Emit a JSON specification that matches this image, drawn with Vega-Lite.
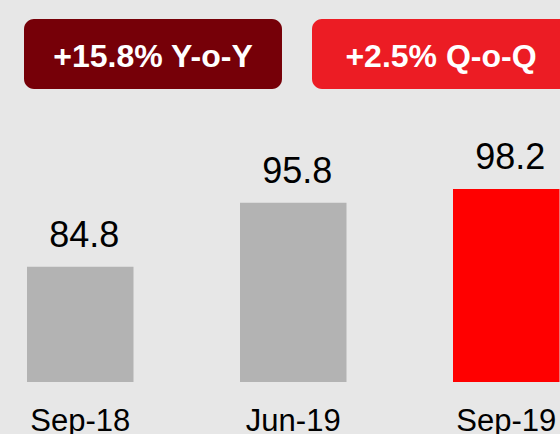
{
  "$schema": "https://vega.github.io/schema/vega-lite/v6.json",
  "width": 560,
  "height": 434,
  "padding": 0,
  "autosize": {"type": "none"},
  "background": "#e7e7e7",
  "config": {"view": {"stroke": null}, "font": "Liberation Sans"},
  "layer": [
    {
      "data": {"values": [
        {"period": "Sep-18", "value": 84.8},
        {"period": "Jun-19", "value": 95.8},
        {"period": "Sep-19", "value": 98.2}
      ]},
      "encoding": {
        "x": {
          "field": "period", "type": "nominal", "sort": null,
          "scale": {"range": [27, 559.5], "paddingInner": 0.5, "paddingOuter": 0},
          "axis": {
            "orient": "bottom", "title": null, "domain": false, "ticks": false, "tickSize": 0,
            "labelPadding": -4, "labelBaseline": "alphabetic", "labelAngle": 0,
            "labelFontSize": 31, "labelColor": "#000000", "labelFont": "Liberation Sans",
            "labelFlush": false, "labelOverlap": false, "grid": false
          }
        }
      },
      "layer": [
        {
          "mark": {"type": "bar"},
          "encoding": {
            "y": {"field": "value", "type": "quantitative",
                  "scale": {"domain": [56.06, 130.67], "nice": false, "zero": false}, "axis": null},
            "y2": {"datum": 65},
            "color": {"field": "period", "type": "nominal",
                      "scale": {"domain": ["Sep-18", "Jun-19", "Sep-19"], "range": ["#b3b3b3", "#b3b3b3", "#ff0000"]},
                      "legend": null}
          }
        },
        {
          "mark": {"type": "text", "dy": -20, "dx": 4, "baseline": "alphabetic", "fontSize": 36, "color": "#000000", "font": "Liberation Sans"},
          "encoding": {
            "y": {"field": "value", "type": "quantitative"},
            "text": {"field": "value", "type": "quantitative", "format": ".1f"}
          }
        }
      ]
    },
    {
      "data": {"values": [
        {"label": "+15.8% Y-o-Y", "kind": "YoY"},
        {"label": "+2.5% Q-o-Q", "kind": "QoQ"}
      ]},
      "encoding": {
        "x": {
          "field": "kind", "type": "nominal", "sort": null,
          "scale": {"range": [24, 570], "paddingInner": 0.1042, "paddingOuter": 0},
          "axis": null
        }
      },
      "layer": [
        {
          "mark": {"type": "rect", "cornerRadius": 10},
          "encoding": {
            "y": {"datum": 19, "type": "quantitative",
                  "scale": {"domain": [0, 434], "reverse": true, "nice": false, "zero": false}, "axis": null},
            "y2": {"datum": 89},
            "color": {"field": "kind", "type": "nominal",
                      "scale": {"domain": ["YoY", "QoQ"], "range": ["#760008", "#ec1c24"]},
                      "legend": null}
          }
        },
        {
          "mark": {"type": "text", "color": "#ffffff", "fontWeight": "bold", "fontSize": 32, "baseline": "alphabetic", "font": "Liberation Sans"},
          "encoding": {
            "y": {"datum": 67, "type": "quantitative"},
            "text": {"field": "label", "type": "nominal"}
          }
        }
      ]
    }
  ],
  "resolve": {"scale": {"x": "independent", "y": "independent", "color": "independent"}}
}
